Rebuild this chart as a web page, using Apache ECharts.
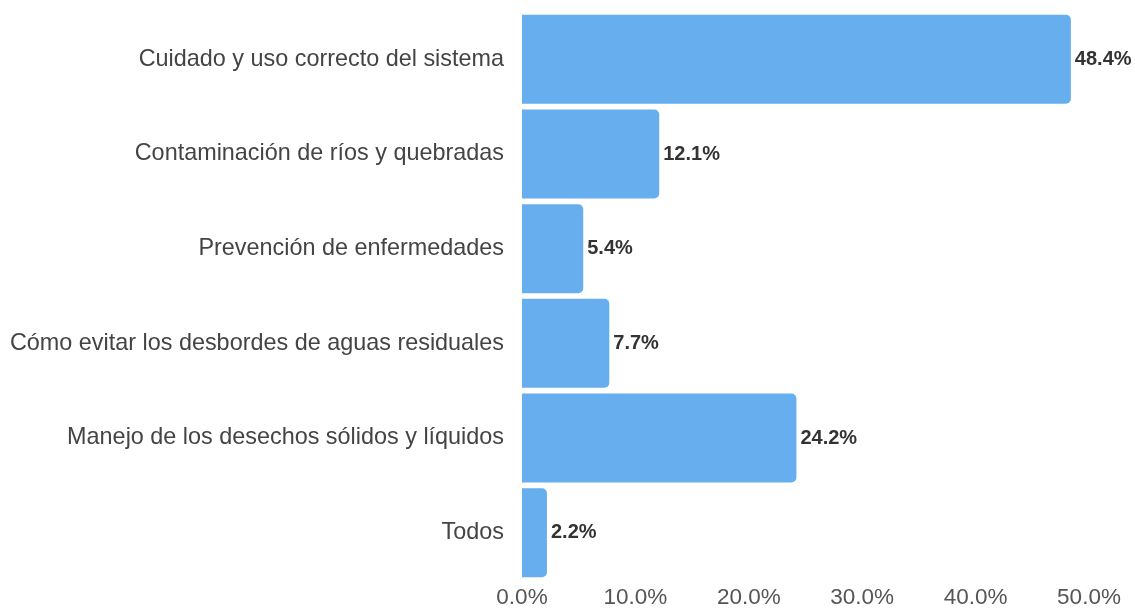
<!DOCTYPE html>
<html>
<head>
<meta charset="utf-8">
<script src="https://cdn.jsdelivr.net/npm/echarts@6/dist/echarts.min.js"></script>
<style>
  html, body { margin: 0; padding: 0; background: #fff; }
  #chart { width: 1135px; height: 609px; }
</style>
</head>
<body>
<div id="chart"></div>
<script>
const categories = [
  'Cuidado y uso correcto del sistema',
  'Contaminación de ríos y quebradas',
  'Prevención de enfermedades',
  'Cómo evitar los desbordes de aguas residuales',
  'Manejo de los desechos sólidos y líquidos',
  'Todos'
]
const values = [48.4, 12.1, 5.4, 7.7, 24.2, 2.2]
const tickMax = 50
const tickStep = 10

const myChart = echarts.init(document.getElementById('chart'))
const option = {
  animation: false,
  grid: {
    left: 522,
    right: 46,
    top: 12,
    bottom: 29,
  },
  xAxis: {
    type: 'value',
    min: 0,
    max: tickMax,
    interval: tickStep,
    splitLine: { show: false },
    axisLine: { show: false },
    axisTick: { show: false },
    axisLabel: {
      fontSize: 22.5,
      fontFamily: 'Liberation Sans',
      color: '#555',
      margin: 6,
      formatter: v => v.toFixed(1) + '%',
    },
  },
  yAxis: {
    type: 'category',
    inverse: true,
    data: categories,
    axisLine: { show: false },
    axisTick: { show: false },
    axisLabel: {
      fontSize: 23.4,
      fontFamily: 'Liberation Sans',
      color: '#444',
      margin: 18,
    },
  },
  series: [
    {
      type: 'bar',
      data: values,
      barCategoryGap: '6%',
      itemStyle: {
        color: '#67aeee',
        borderRadius: [0, 5, 5, 0],
      },
      label: {
        show: true,
        position: 'right',
        distance: 4,
        fontSize: 20,
        fontWeight: 'bold',
        fontFamily: 'Liberation Sans',
        color: '#333',
        formatter: p => p.value.toFixed(1) + '%',
      },
    },
  ],
}
myChart.setOption(option)
</script>
</body>
</html>
